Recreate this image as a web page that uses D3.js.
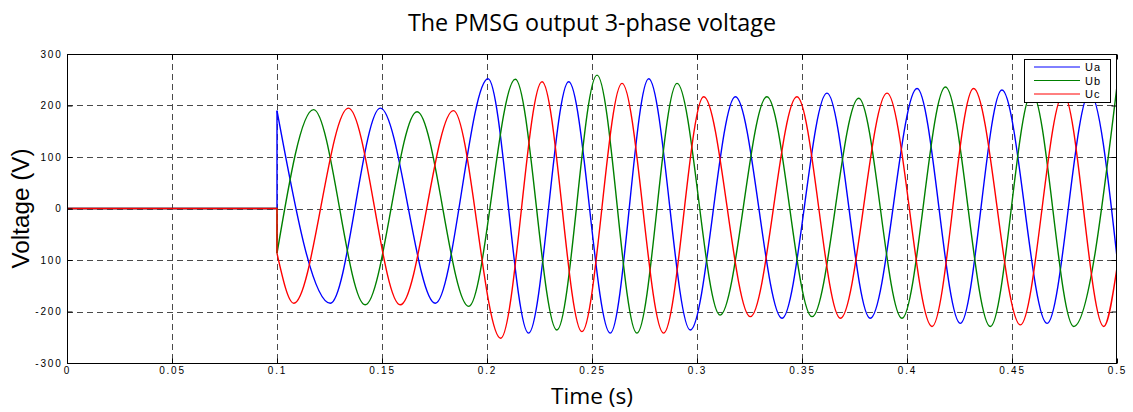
<!DOCTYPE html>
<html>
<head>
<meta charset="utf-8">
<script src="https://cdn.jsdelivr.net/npm/d3@7"></script>
<style>
  html, body { margin: 0; padding: 0; background: #fff; }
  svg { display: block; }
</style>
</head>
<body>
<svg id="chart" width="1133" height="412"></svg>
<script>
// ---------- data ----------
const timeTicks = [0, 0.05, 0.1, 0.15, 0.2, 0.25, 0.3, 0.35, 0.4, 0.45, 0.5];
const timeTickLabels = ["0", "0.05", "0.1", "0.15", "0.2", "0.25", "0.3", "0.35", "0.4", "0.45", "0.5"];
const voltTicks = [300, 200, 100, 0, -100, -200, -300];
const voltTickLabels = ["300", "200", "100", "0", "100", "-200", "-300"];

const seriesNames = ["Ua", "Ub", "Uc"];
const seriesColors = ["#0000ff", "#008000", "#ff0000"];

// Before 0.1 s all three phases are zero
const idleTime = [0, 0.1];
const idleVolt = [0, 0];

// turning points (peaks / troughs) of each phase after start-up at 0.1 s
const uaTime = [0.1, 0.1254, 0.1492, 0.1754, 0.2005, 0.2198, 0.2389, 0.2587, 0.277, 0.2968, 0.3183, 0.3405, 0.3619, 0.3825, 0.4048, 0.4254, 0.4452, 0.4667, 0.487, 0.5];
const uaVolt = [190, -184, 195, -184, 252, -242, 246, -242, 252, -236, 217, -213, 224, -213, 233, -223, 230, -223, 225, -95];

const ubTime = [0.1, 0.1174, 0.142, 0.1667, 0.1913, 0.2135, 0.2333, 0.2524, 0.2714, 0.2905, 0.311, 0.3333, 0.3548, 0.377, 0.3976, 0.4183, 0.4397, 0.4595, 0.4794, 0.5];
const ubVolt = [-87, 192, -187, 188, -190, 251, -236, 259, -242, 243, -207, 217, -210, 214, -213, 236, -229, 225, -229, 238];

const ucTime = [0.1, 0.108, 0.134, 0.1587, 0.184, 0.2065, 0.2262, 0.2452, 0.2643, 0.2841, 0.3032, 0.3254, 0.3476, 0.3683, 0.3905, 0.4119, 0.4317, 0.454, 0.4745, 0.4937, 0.5];
const ucVolt = [-87, -184, 195, -187, 190, -252, 246, -239, 243, -242, 217, -210, 217, -213, 224, -229, 233, -226, 222, -229, -115];

const seriesTime = [uaTime, ubTime, ucTime];
const seriesVolt = [uaVolt, ubVolt, ucVolt];

// ---------- layout ----------
const svg = d3.select("#chart");
const W = 1133, H = 412;
const margin = { left: 67, right: 16, top: 54, bottom: 49 };
const pw = W - margin.left - margin.right;
const ph = H - margin.top - margin.bottom;

const x = d3.scaleLinear().domain([0, 0.5]).range([margin.left, margin.left + pw]);
const y = d3.scaleLinear().domain([-300, 300]).range([margin.top + ph, margin.top]);

svg.append("rect").attr("width", W).attr("height", H).attr("fill", "#fff");

// clip
svg.append("clipPath").attr("id", "clip")
  .append("rect").attr("x", margin.left).attr("y", margin.top).attr("width", pw).attr("height", ph);

// grid
const grid = svg.append("g").attr("stroke", "#4a4a4a").attr("stroke-width", 1).attr("stroke-dasharray", "6,4");
grid.selectAll("line.v").data(timeTicks.filter(t => t > 0 && t < 0.5)).join("line")
  .attr("x1", d => Math.round(x(d)) + 0.5).attr("x2", d => Math.round(x(d)) + 0.5)
  .attr("y1", margin.top).attr("y2", margin.top + ph);
grid.selectAll("line.h").data(voltTicks.filter(v => v > -300 && v < 300)).join("line")
  .attr("y1", d => Math.round(y(d)) + 0.5).attr("y2", d => Math.round(y(d)) + 0.5)
  .attr("x1", margin.left).attr("x2", margin.left + pw);

// lines
const plot = svg.append("g").attr("clip-path", "url(#clip)");
const linLine = d3.line().x(d => x(d[0])).y(d => y(d[1]));
const waveLine = d3.line().x(d => x(d[0])).y(d => y(d[1])).curve(d3.curveMonotoneX);

seriesNames.forEach((name, i) => {
  const t = seriesTime[i], v = seriesVolt[i];
  const pre = idleTime.map((tt, k) => [tt, idleVolt[k]]);
  pre.push([t[0], v[0]]);
  plot.append("path").attr("d", linLine(pre))
    .attr("fill", "none").attr("stroke", seriesColors[i]).attr("stroke-width", 1.4);
  plot.append("path").attr("d", waveLine(t.map((tt, k) => [tt, v[k]])))
    .attr("fill", "none").attr("stroke", seriesColors[i]).attr("stroke-width", 1.4)
    .attr("stroke-linejoin", "round");
});

// axes box
svg.append("rect").attr("x", margin.left + 0.5).attr("y", margin.top + 0.5)
  .attr("width", pw - 1).attr("height", ph).attr("fill", "none").attr("stroke", "#000").attr("stroke-width", 1);

const tickFont = "'Liberation Sans', Arial, sans-serif";
// bottom axis
const xAxis = d3.axisBottom(x).tickValues(timeTicks).tickSizeInner(-5).tickSizeOuter(0)
  .tickFormat((d, i) => timeTickLabels[i]).tickPadding(3);
const gx = svg.append("g").attr("transform", `translate(0,${margin.top + ph + 0.5})`).call(xAxis);
gx.select(".domain").remove();
gx.selectAll("text").attr("font-family", tickFont).attr("font-size", 10).attr("fill", "#000")
  .attr("letter-spacing", "1.8px");
// top ticks
const xTop = d3.axisTop(x).tickValues(timeTicks).tickSizeInner(-5).tickSizeOuter(0).tickFormat("");
const gxt = svg.append("g").attr("transform", `translate(0,${margin.top + 0.5})`).call(xTop);
gxt.select(".domain").remove();

// left axis
const yAxis = d3.axisLeft(y).tickValues(voltTicks).tickSizeInner(-5).tickSizeOuter(0)
  .tickFormat((d, i) => voltTickLabels[i]).tickPadding(5);
const gy = svg.append("g").attr("transform", `translate(${margin.left + 0.5},0)`).call(yAxis);
gy.select(".domain").remove();
gy.selectAll("text").attr("font-family", tickFont).attr("font-size", 10).attr("fill", "#000")
  .attr("letter-spacing", "1.8px");
const yRight = d3.axisRight(y).tickValues(voltTicks).tickSizeInner(-5).tickSizeOuter(0).tickFormat("");
const gyr = svg.append("g").attr("transform", `translate(${margin.left + pw - 0.5},0)`).call(yRight);
gyr.select(".domain").remove();

// text fitting helper
function fit(sel, target) {
  const len = sel.node().getComputedTextLength();
  const fs = parseFloat(sel.attr("font-size"));
  sel.attr("font-size", (fs * target / len).toFixed(2));
}

// title
const title = svg.append("text").attr("x", margin.left + pw / 2).attr("y", 31)
  .attr("text-anchor", "middle").attr("font-family", "'Open Sans', 'Noto Sans', sans-serif")
  .attr("font-size", 20).attr("fill", "#000").text("The PMSG output 3-phase voltage");
fit(title, 368);

// x label
const xl = svg.append("text").attr("x", margin.left + pw / 2).attr("y", 404)
  .attr("text-anchor", "middle").attr("font-family", "'Open Sans', 'Noto Sans', sans-serif")
  .attr("font-size", 22).attr("fill", "#000").text("Time (s)");
fit(xl, 82);

// y label
const yl = svg.append("text").attr("transform", `translate(29,${margin.top + ph / 2}) rotate(-90)`)
  .attr("text-anchor", "middle").attr("font-family", "'Liberation Sans', Arial, sans-serif")
  .attr("font-size", 24).attr("fill", "#000").text("Voltage (V)");
fit(yl, 120);

// legend
const lg = svg.append("g").attr("transform", "translate(1024,59)");
lg.append("rect").attr("x", 0.5).attr("y", 0.5).attr("width", 86).attr("height", 43)
  .attr("fill", "#fff").attr("stroke", "#000").attr("stroke-width", 1);
seriesNames.forEach((name, i) => {
  const yy = 8 + i * 13.5;
  lg.append("line").attr("x1", 10).attr("x2", 56).attr("y1", yy).attr("y2", yy)
    .attr("stroke", seriesColors[i]).attr("stroke-width", 1);
  lg.append("text").attr("x", 61).attr("y", yy + 4).attr("font-family", tickFont)
    .attr("font-size", 11).attr("letter-spacing", "1px").attr("fill", "#000").text(name);
});
</script>
</body>
</html>
